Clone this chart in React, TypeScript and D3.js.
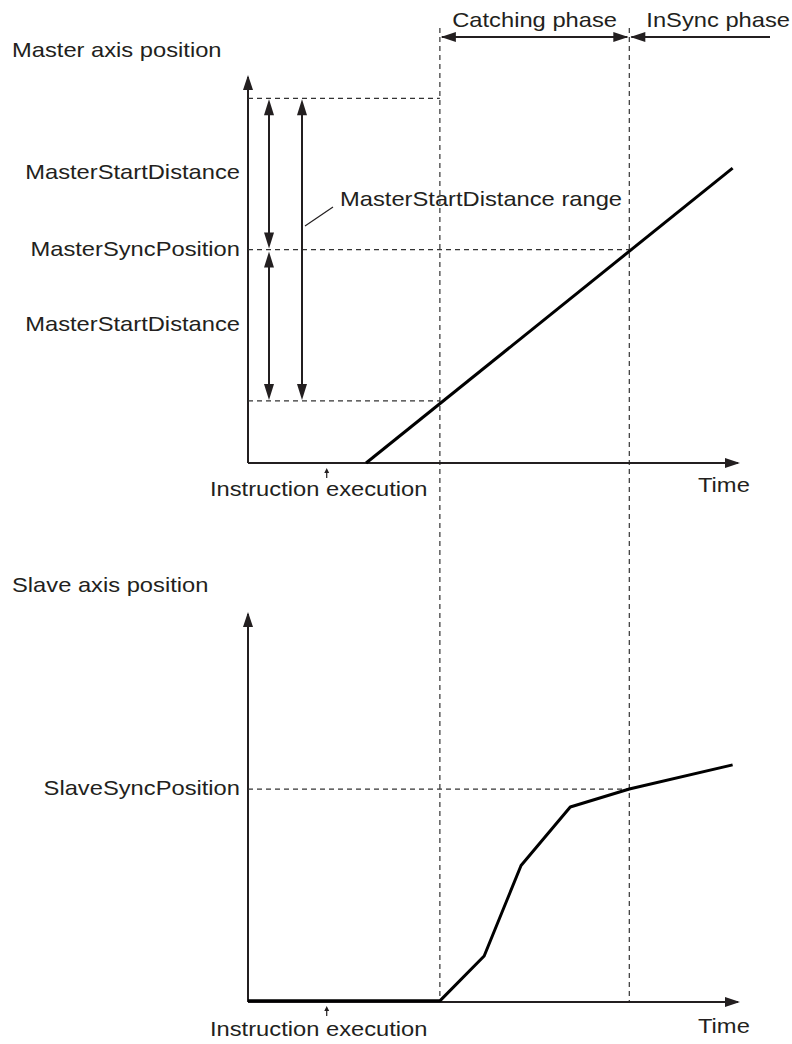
import React, { useEffect, useRef } from "react";
import * as d3 from "d3";

// time positions (arbitrary units along both time axes)
const phaseNames = ["Catching phase", "InSync phase"];
const phaseTimes = [3.9, 7.75]; // start of catching, sync point
const instructionTime = 1.6;

// master axis
const masterLabels = ["MasterStartDistance", "MasterSyncPosition", "MasterStartDistance"];
const masterLevels = [94, 55, 16]; // range top, sync position, range bottom
const masterTimes = [2.4, 9.85];
const masterPositions = [0, 76];

// slave axis
const slaveSyncLevel = 54.6;
const slaveTimes = [0, 3.9, 4.8, 5.55, 6.55, 7.75, 9.85];
const slavePositions = [0.3, 0.3, 11.8, 35, 50, 54.6, 60.8];

const W = 792;
const H = 1044;
const FONT = 21;
const SX = 1.13;
const INK = "#231f20";

export default function App() {
    const svgRef = useRef(null);

    useEffect(() => {
        const svg = d3.select(svgRef.current);
        svg.selectAll("*").remove();

        const x = d3.scaleLinear().domain([0, 10]).range([248, 740]);
        const yM = d3.scaleLinear().domain([0, 100]).range([463, 75]);
        const yS = d3.scaleLinear().domain([0, 100]).range([1002, 612]);

        const text = (tx, ty, str, anchor = "start") => {
            svg.append("text")
                .attr("transform", `translate(${tx},${ty}) scale(${SX},1)`)
                .attr("text-anchor", anchor)
                .attr("font-family", "'Liberation Sans', Arial, sans-serif")
                .attr("font-size", FONT)
                .attr("fill", INK)
                .text(str);
        };

        const line = (x1, y1, x2, y2, w = 2, dash = null, color = INK) => {
            const l = svg.append("line")
                .attr("x1", x1).attr("y1", y1)
                .attr("x2", x2).attr("y2", y2)
                .attr("stroke", color)
                .attr("stroke-width", w);
            if (dash) l.attr("stroke-dasharray", dash);
        };

        // tip at (tx,ty), pointing along angle
        const head = (tx, ty, angle, len = 15, half = 5) => {
            const ca = Math.cos(angle), sa = Math.sin(angle);
            const bx = tx - len * ca, by = ty - len * sa;
            svg.append("path")
                .attr("d", `M${tx},${ty}L${bx - half * sa},${by + half * ca}L${bx + half * sa},${by - half * ca}Z`)
                .attr("fill", INK);
        };

        const UP = -Math.PI / 2, DOWN = Math.PI / 2, RIGHT = 0, LEFT = Math.PI;
        const dash = "5,4";

        // phase dividers
        const headerY = 37;
        phaseTimes.forEach(t => line(x(t), 28, x(t), yS(0), 1.2, dash, "#333"));

        // phase header arrows
        line(x(phaseTimes[0]) + 2, headerY, x(phaseTimes[1]) - 2, headerY, 2);
        head(x(phaseTimes[0]) + 1, headerY, LEFT);
        head(x(phaseTimes[1]) - 1, headerY, RIGHT);
        line(x(phaseTimes[1]) + 2, headerY, 770, headerY, 2);
        head(x(phaseTimes[1]) + 1, headerY, LEFT);
        text((x(phaseTimes[0]) + x(phaseTimes[1])) / 2 + 0, 27, phaseNames[0], "middle");
        text(x(phaseTimes[1]) + 17, 27, phaseNames[1]);

        // ---- master chart ----
        text(12, 57, "Master axis position");
        line(x(0), yM(0), x(0), yM(100) + 2, 2);
        head(x(0), yM(100), UP);
        line(x(0), yM(0), x(10) - 2, yM(0), 2);
        head(x(10), yM(0), RIGHT);
        text(698, 492, "Time");

        // level guides
        line(x(0), yM(masterLevels[0]), x(phaseTimes[0]), yM(masterLevels[0]), 1.2, dash, "#333");
        line(x(0), yM(masterLevels[1]), x(phaseTimes[1]), yM(masterLevels[1]), 1.2, dash, "#333");
        line(x(0), yM(masterLevels[2]), x(phaseTimes[0]), yM(masterLevels[2]), 1.2, dash, "#333");

        // labels on the left
        const mid1 = (yM(masterLevels[0]) + yM(masterLevels[1])) / 2;
        const mid2 = (yM(masterLevels[1]) + yM(masterLevels[2])) / 2;
        text(240, mid1 + 5, masterLabels[0], "end");
        text(240, yM(masterLevels[1]) + 6, masterLabels[1], "end");
        text(240, mid2 + 6, masterLabels[2], "end");

        // start distance arrows
        const ax1 = 269, ax2 = 302;
        line(ax1, yM(masterLevels[0]) + 10, ax1, yM(masterLevels[1]) - 10, 2);
        head(ax1, yM(masterLevels[0]) + 1, UP, 16, 5);
        head(ax1, yM(masterLevels[1]) - 1, DOWN, 16, 5);
        line(ax1, yM(masterLevels[1]) + 10, ax1, yM(masterLevels[2]) - 10, 2);
        head(ax1, yM(masterLevels[1]) + 2, UP, 16, 5);
        head(ax1, yM(masterLevels[2]) - 1, DOWN, 16, 5);
        line(ax2, yM(masterLevels[0]) + 10, ax2, yM(masterLevels[2]) - 10, 2);
        head(ax2, yM(masterLevels[0]) + 1, UP, 16, 5);
        head(ax2, yM(masterLevels[2]) - 1, DOWN, 16, 5);

        // range callout
        line(305, 226, 333, 207, 1.2);
        text(340, 206, "MasterStartDistance range");

        // master position line
        const masterLine = d3.line<number>()
            .x((_, i) => x(masterTimes[i]))
            .y((_, i) => yM(masterPositions[i]));
        svg.append("path")
            .attr("d", masterLine(masterTimes))
            .attr("fill", "none")
            .attr("stroke", "#000")
            .attr("stroke-width", 3);

        // instruction execution marker
        line(x(instructionTime), yM(0) + 15, x(instructionTime), yM(0) + 8, 1.2);
        head(x(instructionTime), yM(0) + 5, UP, 5, 2.5);
        text(x(instructionTime) - 8, 496, "Instruction execution", "middle");

        // ---- slave chart ----
        text(12, 592, "Slave axis position");
        line(x(0), yS(0), x(0), yS(100) + 2, 2);
        head(x(0), yS(100), UP);
        line(x(0), yS(0), x(10) - 2, yS(0), 2);
        head(x(10), yS(0), RIGHT);
        text(698, 1033, "Time");

        line(x(0), yS(slaveSyncLevel), x(phaseTimes[1]), yS(slaveSyncLevel), 1.2, dash, "#333");
        text(240, yS(slaveSyncLevel) + 6, "SlaveSyncPosition", "end");

        const slaveLine = d3.line<number>()
            .x((_, i) => x(slaveTimes[i]))
            .y((_, i) => yS(slavePositions[i]));
        svg.append("path")
            .attr("d", slaveLine(slaveTimes))
            .attr("fill", "none")
            .attr("stroke", "#000")
            .attr("stroke-width", 3)
            .attr("stroke-linejoin", "round");

        line(x(instructionTime), yS(0) + 14, x(instructionTime), yS(0) + 7, 1.2);
        head(x(instructionTime), yS(0) + 4, UP, 5, 2.5);
        text(x(instructionTime) - 8, 1036, "Instruction execution", "middle");
    }, []);

    return (
        <svg
            ref={svgRef}
            width={W}
            height={H}
            style={{ position: "absolute", left: 0, top: 0, background: "#fff" }}
        />
    );
}
